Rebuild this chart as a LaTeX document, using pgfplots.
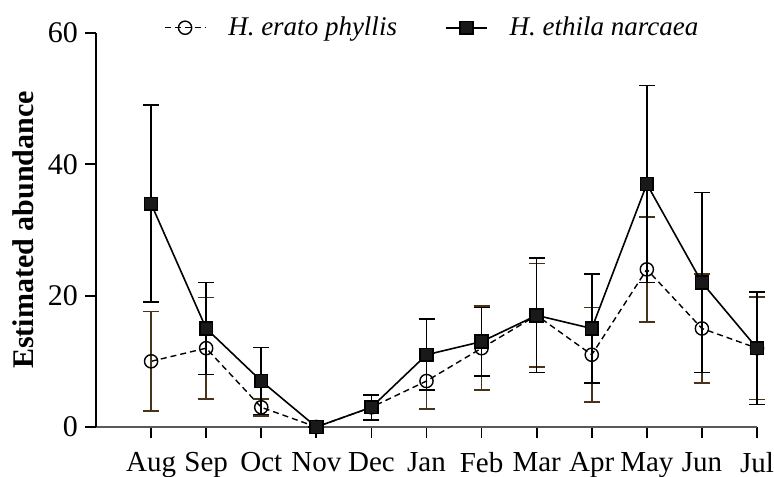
\documentclass[border=0pt]{standalone}
\usepackage{pgfplots}
\pgfplotsset{compat=1.18}
\usepackage{fontspec}
\setmainfont{Liberation Serif}

\pgfplotstableread{
x y e
0 10 7.6
1 12 7.7
2 3 1.3
3 0 0
4 3 1.9
5 7 4.3
6 12 6.4
7 17 7.9
8 11 7.2
9 24 8
10 15 8.3
11 12 7.8
}\erato

\pgfplotstableread{
x y e
0 34 15
1 15 7
2 7 5.1
3 0 0
4 3 1.9
5 11 5.4
6 13 5.2
7 17 8.7
8 15 8.3
9 37 15
10 22 13.7
11 12 8.6
}\ethila

\definecolor{ebar}{rgb}{0.28,0.2,0.1}

\begin{document}
\begin{tikzpicture}
\begin{axis}[
  name=ax,
  scale only axis,
  width=330.5pt, height=197pt,
  xmin=-1, xmax=11, ymin=0, ymax=60,
  axis x line*=bottom, axis y line*=left,
  x axis line style={gray!70!black, line width=0.9pt, -},
  y axis line style={black, line width=0.9pt, -},
  tick align=outside,
  major tick length=5.5pt,
  xtick={0,...,11},
  xticklabels={Aug,Sep,Oct,Nov,Dec,Jan,Feb,Mar,Apr,May,Jun,Jul},
  ytick={0,20,40,60},
  x tick style={black, line width=0.9pt},
  y tick style={black, line width=0.9pt},
  xticklabel style={font=\fontsize{14.5}{17}\selectfont, yshift=-3.5pt},
  yticklabel style={font=\fontsize{15}{17}\selectfont},
  /pgf/number format/assume math mode=true,
  ylabel={Estimated abundance},
  ylabel style={font=\fontsize{15}{17}\selectfont\bfseries, at={(axis description cs:-0.11,0.5)}, anchor=center},
  clip=false,
  legend style={at={(axis description cs:0.51,1)}, anchor=south, yshift=-7pt, draw=none, fill=none,
    font=\fontsize{13.5}{16}\selectfont\itshape, legend columns=2,
    /tikz/every odd column/.append style={column sep=9pt},
    /tikz/every even column/.append style={column sep=22pt}},
  legend image code/.code={\draw[mark repeat=2,mark phase=2,#1] plot coordinates {(0cm,0cm) (0.36cm,0cm) (0.72cm,0cm)};},
]
\addplot[black, line width=0.7pt, dash pattern=on 3pt off 2pt,
  mark=o, mark size=3.3pt, mark options={solid, fill=white, line width=0.7pt},
  error bars/.cd, y dir=both, y explicit,
  error bar style={ebar, line width=0.8pt, solid},
  error mark options={rotate=90, mark size=4pt, ebar, line width=0.8pt}]
  table[x=x, y=y, y error=e] {\erato};
\addlegendentry{H. erato phyllis}
\addplot[black, line width=0.8pt, solid,
  mark=square*, mark size=3.2pt, mark options={solid, fill=black!90},
  error bars/.cd, y dir=both, y explicit,
  error bar style={black, line width=0.8pt},
  error mark options={rotate=90, mark size=4pt, black, line width=0.8pt}]
  table[x=x, y=y, y error=e] {\ethila};
\addlegendentry{H. ethila narcaea}
\end{axis}
\pgfresetboundingbox
\path[use as bounding box] ([xshift=-48pt,yshift=-25pt]ax.south west) rectangle ([xshift=8.5pt,yshift=16.5pt]ax.north east);
\end{tikzpicture}
\end{document}
